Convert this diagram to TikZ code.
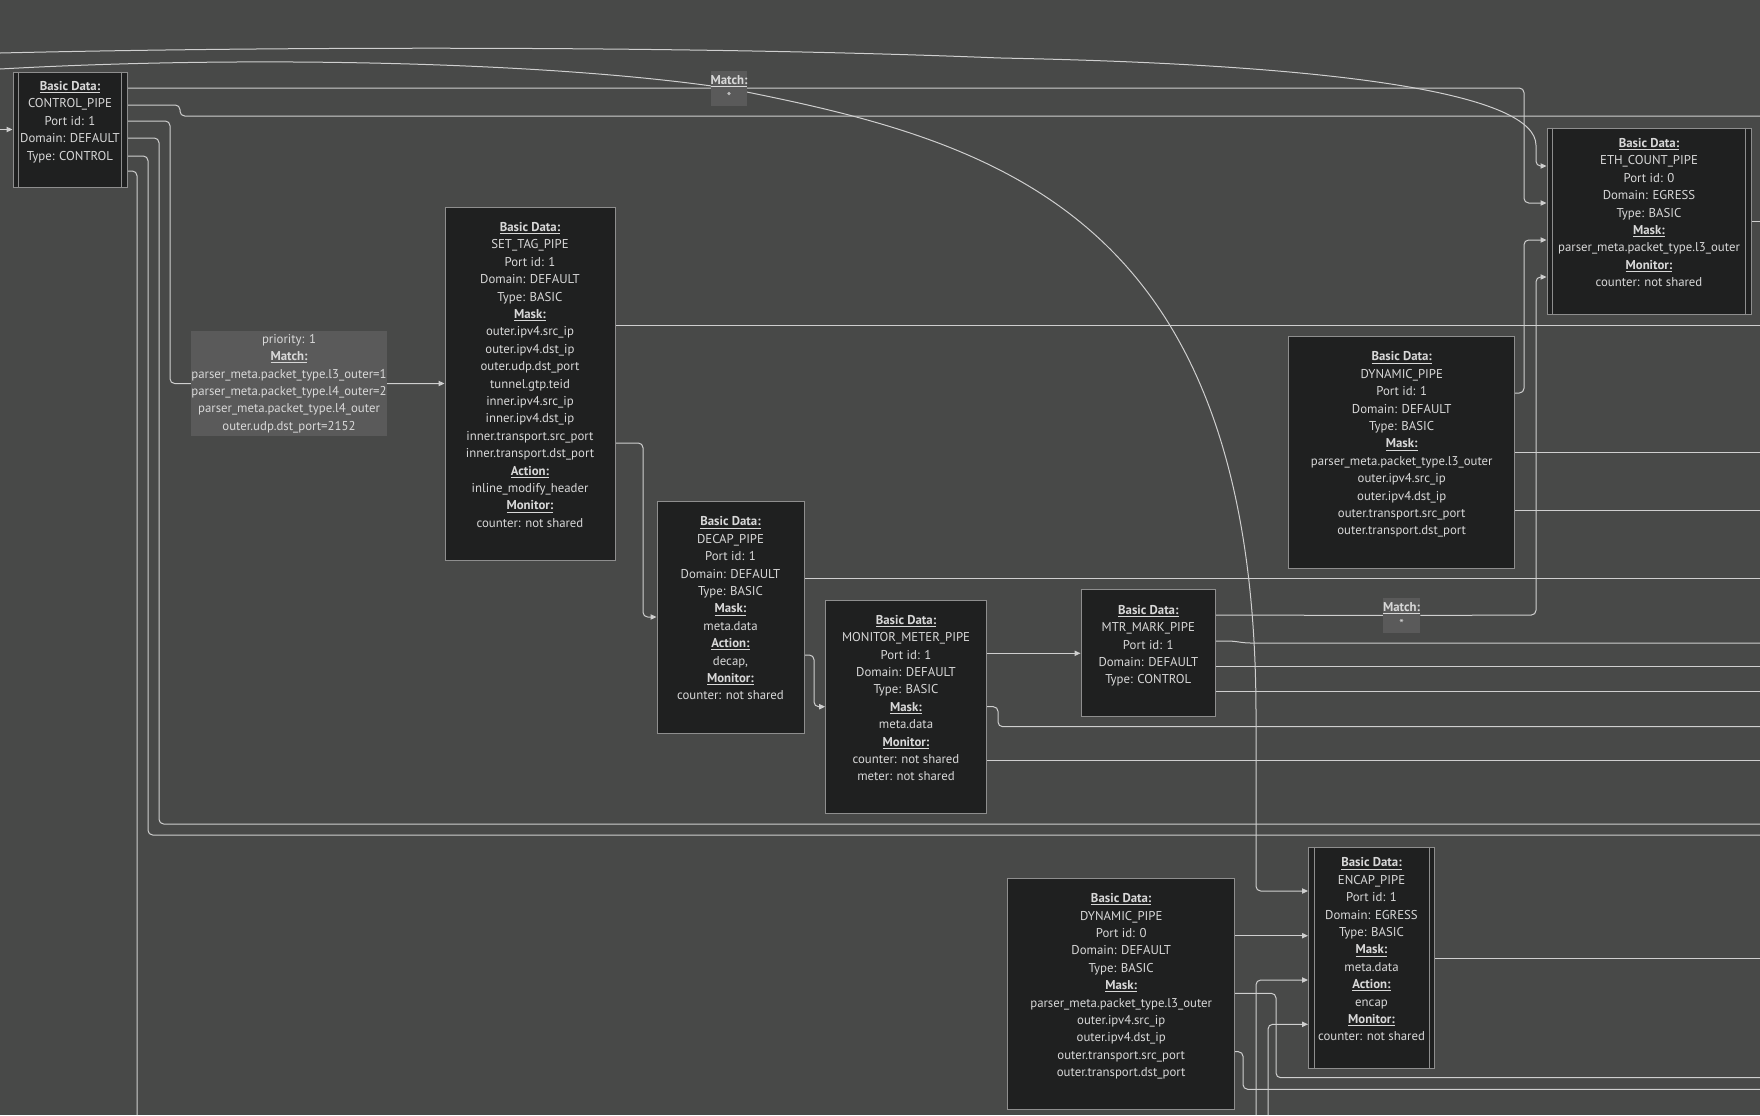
\documentclass[tikz,border=0pt]{standalone}
\usepackage{fontspec}
\setmainfont{PT Sans}
\usetikzlibrary{arrows.meta}
\pgfdeclarelayer{back}
\pgfdeclarelayer{edges}
\pgfsetlayers{back,edges,main}
\definecolor{bgc}{HTML}{484948}
\definecolor{boxfill}{HTML}{1F2020}
\definecolor{boxborder}{HTML}{8E8E8E}
\definecolor{edgecol}{HTML}{CFCFCF}
\definecolor{txt}{HTML}{D8D8D8}
\definecolor{lblfill}{HTML}{5A5A5A}
\newcommand\pxu{0.75pt}
\newcommand\hdr[1]{\underline{\textbf{#1}}}
\tikzset{
  pipebox/.style={draw=boxborder, fill=boxfill, text=txt, align=center, inner sep=0pt,
    line width=0.75pt, font=\fontsize{9.6}{13.05}\selectfont},
  sz/.style 2 args={minimum width=#1*\pxu, minimum height=#2*\pxu},
  boxline/.style={draw=boxborder, line width=0.75pt},
  lbl/.style={fill=lblfill, text=txt, align=center, inner sep=0pt,
    font=\fontsize{9.6}{13.05}\selectfont},
  edge/.style={draw=edgecol, line width=0.75pt, rounded corners=3.5pt},
  arr/.style={edge, -{Triangle[length=4.5pt,width=4pt]}},
}
\begin{document}
\begin{tikzpicture}[x=0.75pt,y=-0.75pt]
\useasboundingbox (0,0) rectangle (1760,1115);
\begin{pgfonlayer}{back}
\fill[bgc] (0,0) rectangle (1760,1115);
\end{pgfonlayer}

% ---------- pipe boxes ----------
\node[pipebox, sz={114}{115}] (ctrl) at (70,129.5)
 {\hdr{Basic Data:}\\CONTROL\_PIPE\\Port id: 1\\Domain: DEFAULT\\Type: CONTROL\\\mbox{}};
\node[pipebox, sz={170}{353}] (settag) at (530,383.5)
 {\hdr{Basic Data:}\\SET\_TAG\_PIPE\\Port id: 1\\Domain: DEFAULT\\Type: BASIC\\\hdr{Mask:}\\
  outer.ipv4.src\_ip\\outer.ipv4.dst\_ip\\outer.udp.dst\_port\\tunnel.gtp.teid\\
  inner.ipv4.src\_ip\\inner.ipv4.dst\_ip\\inner.transport.src\_port\\inner.transport.dst\_port\\
  \hdr{Action:}\\inline\_modify\_header\\\hdr{Monitor:}\\counter: not shared\\\mbox{}};
\node[pipebox, sz={204}{186}] (eth) at (1649,221.2)
 {\hdr{Basic Data:}\\ETH\_COUNT\_PIPE\\Port id: 0\\Domain: EGRESS\\Type: BASIC\\\hdr{Mask:}\\
  parser\_meta.packet\_type.l3\_outer\\\hdr{Monitor:}\\counter: not shared\\\mbox{}};
\node[pipebox, sz={225.5}{232}] (dyn1) at (1401.7,452)
 {\hdr{Basic Data:}\\DYNAMIC\_PIPE\\Port id: 1\\Domain: DEFAULT\\Type: BASIC\\\hdr{Mask:}\\
  parser\_meta.packet\_type.l3\_outer\\outer.ipv4.src\_ip\\outer.ipv4.dst\_ip\\
  outer.transport.src\_port\\outer.transport.dst\_port\\\mbox{}};
\node[pipebox, sz={147}{232}] (decap) at (730.5,617)
 {\hdr{Basic Data:}\\DECAP\_PIPE\\Port id: 1\\Domain: DEFAULT\\Type: BASIC\\\hdr{Mask:}\\
  meta.data\\\hdr{Action:}\\decap,\\\hdr{Monitor:}\\counter: not shared\\\mbox{}};
\node[pipebox, sz={160.7}{213.3}] (mon) at (906,706.7)
 {\hdr{Basic Data:}\\MONITOR\_METER\_PIPE\\Port id: 1\\Domain: DEFAULT\\Type: BASIC\\\hdr{Mask:}\\
  meta.data\\\hdr{Monitor:}\\counter: not shared\\meter: not shared\\\mbox{}};
\node[pipebox, sz={134.6}{126.7}] (mtr) at (1148.3,653.3)
 {\hdr{Basic Data:}\\MTR\_MARK\_PIPE\\Port id: 1\\Domain: DEFAULT\\Type: CONTROL\\\mbox{}};
\node[pipebox, sz={126}{220.6}] (encap) at (1371.5,958)
 {\hdr{Basic Data:}\\ENCAP\_PIPE\\Port id: 1\\Domain: EGRESS\\Type: BASIC\\\hdr{Mask:}\\
  meta.data\\\hdr{Action:}\\encap\\\hdr{Monitor:}\\counter: not shared\\\mbox{}};
\node[pipebox, sz={226.5}{231}] (dyn0) at (1121.2,993.8)
 {\hdr{Basic Data:}\\DYNAMIC\_PIPE\\Port id: 0\\Domain: DEFAULT\\Type: BASIC\\\hdr{Mask:}\\
  parser\_meta.packet\_type.l3\_outer\\outer.ipv4.src\_ip\\outer.ipv4.dst\_ip\\
  outer.transport.src\_port\\outer.transport.dst\_port\\\mbox{}};

% double side borders
\foreach \b in {ctrl,eth,encap}{
  \draw[boxline] ([xshift=4.5pt]\b.north west) -- ([xshift=4.5pt]\b.south west);
  \draw[boxline] ([xshift=-4.5pt]\b.north east) -- ([xshift=-4.5pt]\b.south east);
}

% ---------- edge labels ----------
\node[lbl, sz={194}{105}] (lblP) at (289,383.5)
 {priority: 1\\\hdr{Match:}\\parser\_meta.packet\_type.l3\_outer=1\\parser\_meta.packet\_type.l4\_outer=2\\
  parser\_meta.packet\_type.l4\_outer\\outer.udp.dst\_port=2152};
\node[lbl, sz={36}{35}] (lblA) at (729,88.5) {\hdr{Match:}\\*};
\node[lbl, sz={36}{35}] (lblM) at (1401.5,615.5) {\hdr{Match:}\\*};

% ---------- free ends ----------
\coordinate (inL) at (0,129.5);
\coordinate (tl1) at (0,53);
\coordinate (tl2) at (0,69);
\coordinate (r116) at (1760,116);
\coordinate (r222) at (1760,221.2);
\coordinate (r325) at (1760,325);
\coordinate (r452) at (1760,452);
\coordinate (r510) at (1760,510);
\coordinate (r578) at (1760,578);
\coordinate (r643) at (1760,643);
\coordinate (r667) at (1760,666.7);
\coordinate (r691) at (1760,691);
\coordinate (r727) at (1760,726.7);
\coordinate (r760) at (1760,760);
\coordinate (r824) at (1760,824);
\coordinate (r835) at (1760,835);
\coordinate (r958) at (1760,958);
\coordinate (r1078) at (1760,1077.7);
\coordinate (r1089) at (1760,1089.3);
\coordinate (b137) at (137,1115);
\coordinate (b1256) at (1256,1115);
\coordinate (b1268) at (1268,1115);

% ---------- connectors ----------
\begin{pgfonlayer}{edges}
\draw[arr] (inL) -- (ctrl.west);
\draw[arr] (tl1) .. controls (300,46) and (700,46) .. (1000,58)
  .. controls (1350,65) and (1536,95) .. (1536,150) |- (eth.west |- 0,166);
\draw[arr] (tl2) .. controls (250,55) and (550,62) .. (lblA.center)
  .. controls (1000,142) and (1256,215) .. (1256,720) |- (encap.west |- 0,891);
\draw[arr] (ctrl.east |- 0,88) -- (1524,88) -- (1524,203) -- (eth.west |- 0,203);
\draw[edge] (ctrl.east |- 0,105) -- (180,105) -- (180,116) -- (r116);
\draw[arr] (ctrl.east |- 0,121) -- (170,121) -- (170,383.5) -- (lblP) -- (settag.west);
\draw[edge] (ctrl.east |- 0,138) -- (159,138) -- (159,824) -- (r824);
\draw[edge] (ctrl.east |- 0,156) -- (148,156) -- (148,835) -- (r835);
\draw[edge] (ctrl.east |- 0,171) -- (137,171) -- (b137);
\draw[edge] (settag.east |- 0,325) -- (r325);
\draw[arr] (settag.east |- 0,443) -- (643,443) -- (643,617) -- (decap.west);
\draw[edge] (decap.east |- 0,578) -- (r578);
\draw[arr] (decap.east |- 0,655) -- (814,655) -- (814,706.7) -- (mon.west);
\draw[arr] (mon.east |- 0,653.3) -- (mtr.west);
\draw[edge] (mon.east |- 0,706.7) -- (998,706.7) -- (998,726.7) -- (r727);
\draw[edge] (mon.east |- 0,760) -- (r760);
\draw[arr] (mtr.east |- 0,615) -- (lblM) -- (1536,615) -- (1536,277) -- (eth.west |- 0,277);
\draw[edge] (mtr.east |- 0,641) -- (1232,641) -- (1246,643) -- (r643);
\draw[edge] (mtr.east |- 0,666.7) -- (r667);
\draw[edge] (mtr.east |- 0,691) -- (r691);
\draw[arr] (dyn1.east |- 0,393) -- (1524,393) -- (1524,240) -- (eth.west |- 0,240);
\draw[edge] (dyn1.east |- 0,452) -- (r452);
\draw[edge] (dyn1.east |- 0,510) -- (r510);
\draw[edge] (eth.east) -- (r222);
\draw[edge] (encap.east) -- (r958);
\draw[arr] (dyn0.east |- 0,935.7) -- (encap.west |- 0,935.7);
\draw[edge] (dyn0.east |- 0,993.3) -- (1276,993.3) -- (1276,1077.7) -- (r1078);
\draw[edge] (dyn0.east |- 0,1051.7) -- (1243,1051.7) -- (1243,1089.3) -- (r1089);
\draw[arr] (b1256) -- (1256,980) -- (encap.west |- 0,980);
\draw[arr] (b1268) -- (1268,1024.3) -- (encap.west |- 0,1024.3);
\end{pgfonlayer}
\end{tikzpicture}
\end{document}
